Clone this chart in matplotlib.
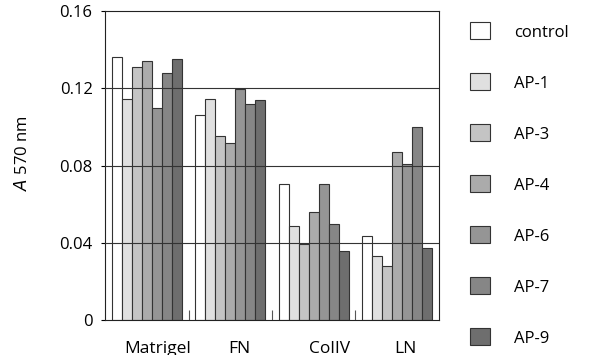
import matplotlib.pyplot as plt
import numpy as np
from matplotlib.patches import Patch
from matplotlib import transforms

plt.rcParams['font.family'] = ['Open Sans', 'DejaVu Sans']

substrates = ['Matrigel', 'FN', 'ColIV', 'LN']
series = ['control', 'AP-1', 'AP-3', 'AP-4', 'AP-6', 'AP-7', 'AP-9']
control = [0.136, 0.106, 0.0704, 0.0433]
ap1 = [0.1146, 0.1146, 0.0485, 0.033]
ap3 = [0.1309, 0.0951, 0.0392, 0.0281]
ap4 = [0.134, 0.0918, 0.0558, 0.0868]
ap6 = [0.110, 0.1198, 0.0704, 0.0808]
ap7 = [0.128, 0.1119, 0.0497, 0.0999]
ap9 = [0.135, 0.1139, 0.0356, 0.0371]
values = [control, ap1, ap3, ap4, ap6, ap7, ap9]
colors = ['#ffffff', '#e0e0e0', '#c4c4c4', '#ababab', '#959595', '#868686', '#6e6e6e']

fig = plt.figure(figsize=(5.9, 3.55), dpi=100)
ax = fig.add_axes([0.178, 0.0986, 0.566, 0.870])

x = np.arange(len(substrates))
w = 0.119
for i, vals in enumerate(values):
    ax.bar(x - 3 * w + i * w, vals, width=w, color=colors[i],
           edgecolor='#333333', linewidth=0.8, zorder=2)

# horizontal reference lines sit on top of the bars
for yv in [0.04, 0.08, 0.12]:
    ax.axhline(yv, color='#333333', lw=0.8, zorder=3)

ax.set_xlim(-0.5, 3.5)
ax.set_ylim(0, 0.16)
ax.set_yticks([0, 0.04, 0.08, 0.12, 0.16])
ax.set_yticklabels(['0', '0.04', '0.08', '0.12', '0.16'], fontsize=12)
ax.tick_params(axis='y', length=3, width=0.8, pad=6)
ax.set_xticks([])
ax.set_xticks([0.5, 1.5, 2.5], minor=True)
ax.tick_params(axis='x', which='minor', direction='in', length=7, width=0.8, color='#555555')
for s in ax.spines.values():
    s.set_linewidth(0.8)
    s.set_color('#222222')

# group names, slightly off-center as in the original
label_x = [0.13, 1.11, 2.19, 3.10]
trans = transforms.offset_copy(ax.get_xaxis_transform(), fig=fig, x=0, y=-33, units='dots')
for lx, name in zip(label_x, substrates):
    ax.text(lx, 0, name, transform=trans, ha='center', va='baseline', fontsize=12.5)

fig.text(0.038, 1 - 153 / 355, r'$\it{A}$ 570 nm', rotation=90, ha='center', va='center', fontsize=12)

handles = [Patch(facecolor=c, edgecolor='#333333', linewidth=0.8) for c in colors]
fig.legend(handles, series, loc='upper left', bbox_to_anchor=(0.797, 0.937),
           frameon=False, fontsize=12, handlelength=1.2, handleheight=1.2,
           labelspacing=1.97, handletextpad=1.45, borderpad=0, borderaxespad=0)

fig.savefig('out.png', dpi=100)
plt.close()
